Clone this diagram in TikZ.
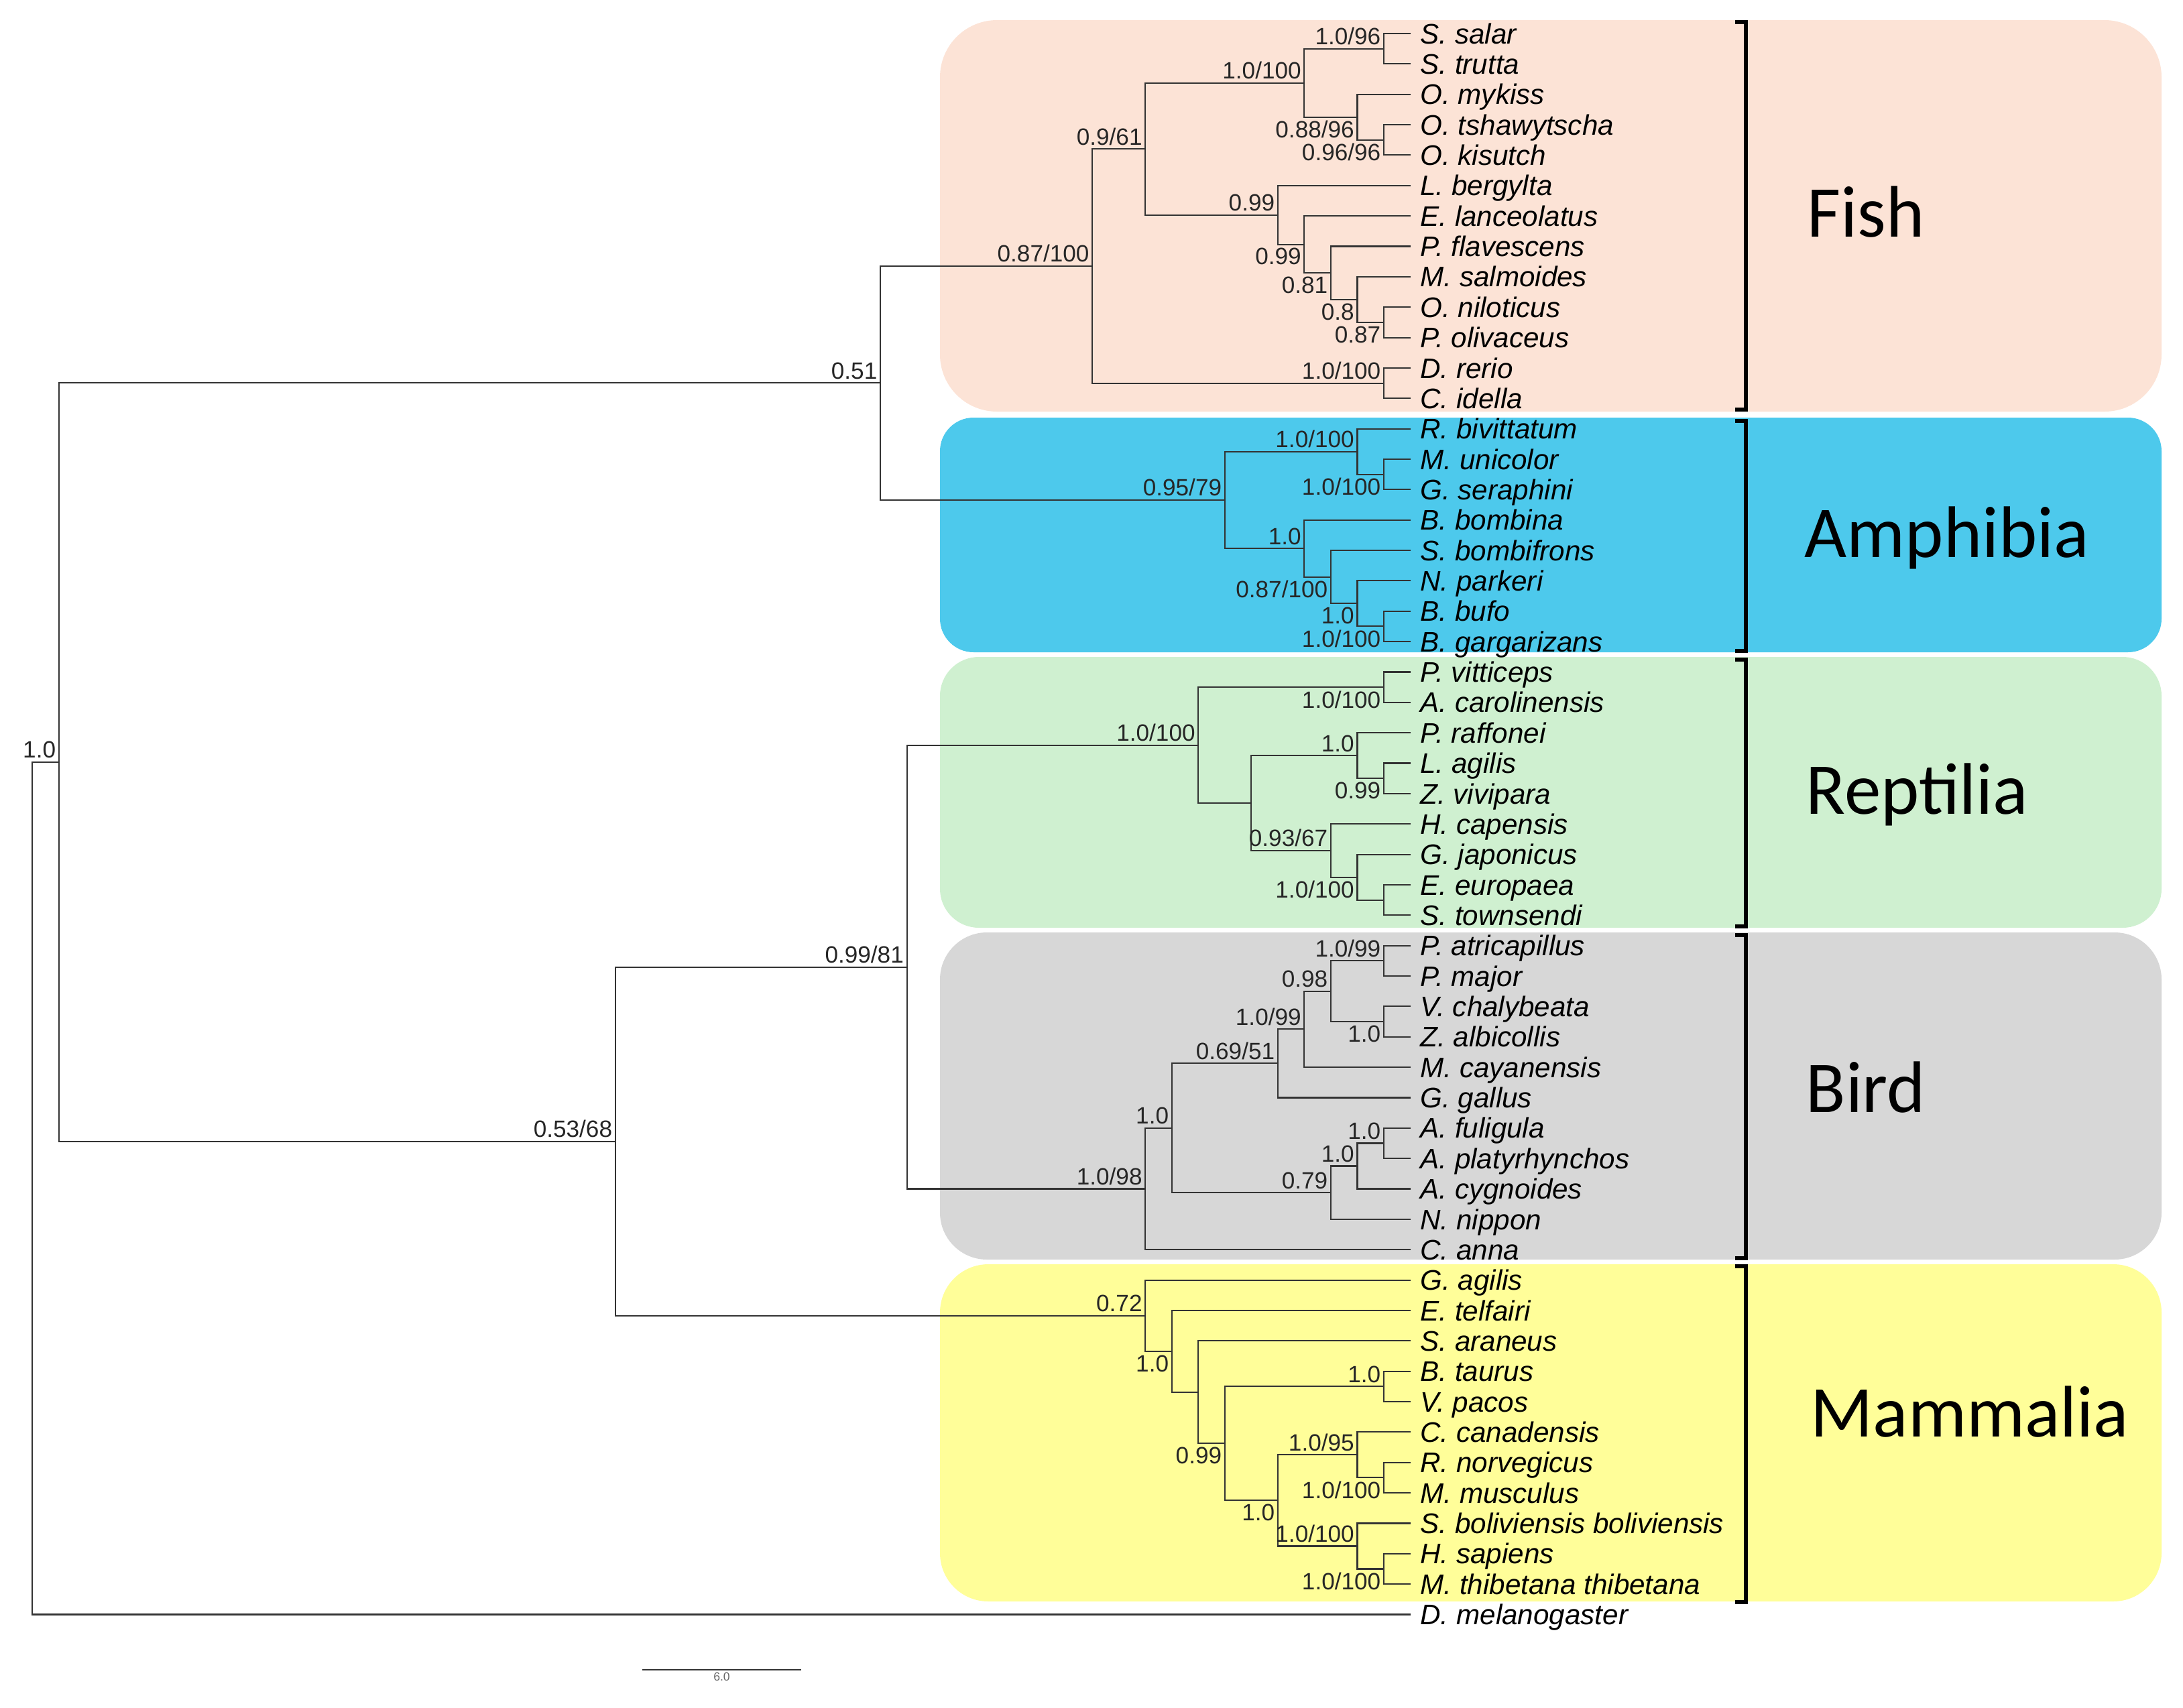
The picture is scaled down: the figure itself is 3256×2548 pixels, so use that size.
\documentclass[tikz,border=0pt]{standalone}
\usepackage{fontspec}
\setmainfont{Liberation Sans}
\newfontfamily\groupfont{Carlito}
\usetikzlibrary{calc}
\definecolor{fishbg}{RGB}{252,227,214}
\definecolor{amphbg}{RGB}{77,201,236}
\definecolor{reptbg}{RGB}{207,240,208}
\definecolor{birdbg}{RGB}{215,215,215}
\definecolor{mammbg}{RGB}{255,254,153}

\begin{document}
\begin{tikzpicture}[x=0.01cm, y=-0.01cm,
    branch/.style={draw=black!80, line width=0.6pt},
    taxon/.style={anchor=west, inner xsep=0.15cm, inner ysep=0pt, outer sep=0pt,
      text height=10pt, text depth=1.4pt, font=\fontsize{12}{14}\selectfont\itshape},
    supa/.style={anchor=south east, inner xsep=0.04cm, inner ysep=0.05cm,
      font=\fontsize{10}{12}\selectfont, text=black!85},
    supb/.style={supa, anchor=north east},
    brace/.style={line width=1.5pt},
    group/.style={anchor=base west, inner sep=0pt, font=\groupfont\fontsize{31}{36}\selectfont}]
  \useasboundingbox (0,0) rectangle (3256,2548);

  % clade boxes
  \foreach \c/\t/\b/\r in {fishbg/30/614/0.85cm, amphbg/623/973/0.5cm,
      reptbg/980/1384/0.58cm, birdbg/1391/1879/0.7cm, mammbg/1886/2389/0.72cm}
    \fill[\c, rounded corners=\r] (1402,\t) rectangle (3224,\b);

  % tree: x = levels back from the tips, y = rows
  \begin{scope}[shift={(2103.5,50)}, x=-0.395cm, y=-0.4533cm]
    \foreach \n/\r/\t in {sSal/0/S. salar, sTru/1/S. trutta, oMyk/2/O. mykiss,
        oTsh/3/O. tshawytscha, oKis/4/O. kisutch, lBer/5/L. bergylta,
        eLan/6/E. lanceolatus, pFla/7/P. flavescens, mSal/8/M. salmoides,
        oNil/9/O. niloticus, pOli/10/P. olivaceus, dRer/11/D. rerio, cIde/12/C. idella,
        rBiv/13/R. bivittatum, mUni/14/M. unicolor, gSer/15/G. seraphini,
        bBom/16/B. bombina, sBom/17/S. bombifrons, nPar/18/N. parkeri,
        bBuf/19/B. bufo, bGar/20/B. gargarizans,
        pVit/21/P. vitticeps, aCar/22/A. carolinensis, pRaf/23/P. raffonei,
        lAgi/24/L. agilis, zViv/25/Z. vivipara, hCap/26/H. capensis,
        gJap/27/G. japonicus, eEur/28/E. europaea, sTow/29/S. townsendi,
        pAtr/30/P. atricapillus, pMaj/31/P. major, vCha/32/V. chalybeata,
        zAlb/33/Z. albicollis, mCay/34/M. cayanensis, gGal/35/G. gallus,
        aFul/36/A. fuligula, aPla/37/A. platyrhynchos, aCyg/38/A. cygnoides,
        nNip/39/N. nippon, cAnn/40/C. anna,
        gAgi/41/G. agilis, eTel/42/E. telfairi, sAra/43/S. araneus,
        bTau/44/B. taurus, vPac/45/V. pacos, cCan/46/C. canadensis,
        rNor/47/R. norvegicus, mMus/48/M. musculus,
        sBol/49/S. boliviensis boliviensis, hSap/50/H. sapiens,
        mThi/51/M. thibetana thibetana, dMel/52/D. melanogaster}
      \node[taxon] (\n) at (0,\r) {\t};

    \foreach \n/\l/\r in {fSal/1/0.5, fOnc2/1/3.5, fOnc/2/2.75, fSalm/4/1.625,
        fNil/1/9.5, fMsa/2/8.75, fPfl/3/7.875, fEla/4/6.9375, fLab/5/5.96875,
        fEut/10/3.796875, fCyp/1/11.5, fish/12/7.6484,
        aMG/1/14.5, aCau/2/13.75, aBuf/1/19.5, aNB/2/18.75, aSNB/3/17.875,
        aAnu/4/16.9375, amph/7/15.34375, fishAmph/20/11.4961,
        rPA/1/21.5, rLZ/1/24.5, rLac/2/23.75, rES/1/28.5, rGES/2/27.75,
        rGek/3/26.875, rLG/6/25.3125, rept/8/23.40625,
        bPar/1/30.5, bVZ/1/32.5, bPVZ/3/31.5, bMc/4/32.75, bNeo/5/33.875,
        bAF/1/36.5, bAns/2/37.25, bAN/3/38.125, bGal/9/36, bird/10/38,
        sauria/19/30.703,
        mBV/1/44.5, mRM/1/47.5, mCRM/2/46.75, mHM/1/50.5, mSHM/2/49.75,
        mEua/5/48.25, mBor/7/46.375, mSA/8/44.6875, mET/9/43.34375,
        mamm/10/42.1719, amniota/30/36.4375, vert/51/23.967, root/52/37.98}
      \coordinate (\n) at (\l,\r);

    \foreach \p/\c in {fSal/sSal, fSal/sTru, fOnc2/oTsh, fOnc2/oKis, fOnc/oMyk,
        fOnc/fOnc2, fSalm/fSal, fSalm/fOnc, fNil/oNil, fNil/pOli, fMsa/mSal,
        fMsa/fNil, fPfl/pFla, fPfl/fMsa, fEla/eLan, fEla/fPfl, fLab/lBer,
        fLab/fEla, fEut/fSalm, fEut/fLab, fCyp/dRer, fCyp/cIde, fish/fEut,
        fish/fCyp,
        aMG/mUni, aMG/gSer, aCau/rBiv, aCau/aMG, aBuf/bBuf, aBuf/bGar,
        aNB/nPar, aNB/aBuf, aSNB/sBom, aSNB/aNB, aAnu/bBom, aAnu/aSNB,
        amph/aCau, amph/aAnu, fishAmph/fish, fishAmph/amph,
        rPA/pVit, rPA/aCar, rLZ/lAgi, rLZ/zViv, rLac/pRaf, rLac/rLZ,
        rES/eEur, rES/sTow, rGES/gJap, rGES/rES, rGek/hCap, rGek/rGES,
        rLG/rLac, rLG/rGek, rept/rPA, rept/rLG,
        bPar/pAtr, bPar/pMaj, bVZ/vCha, bVZ/zAlb, bPVZ/bPar, bPVZ/bVZ,
        bMc/bPVZ, bMc/mCay, bNeo/bMc, bNeo/gGal, bAF/aFul, bAF/aPla,
        bAns/bAF, bAns/aCyg, bAN/bAns, bAN/nNip, bGal/bNeo, bGal/bAN,
        bird/bGal, bird/cAnn, sauria/rept, sauria/bird,
        mBV/bTau, mBV/vPac, mRM/rNor, mRM/mMus, mCRM/cCan, mCRM/mRM,
        mHM/hSap, mHM/mThi, mSHM/sBol, mSHM/mHM, mEua/mCRM, mEua/mSHM,
        mBor/mBV, mBor/mEua, mSA/sAra, mSA/mBor, mET/eTel, mET/mSA,
        mamm/gAgi, mamm/mET, amniota/sauria, amniota/mamm,
        vert/fishAmph, vert/amniota, root/vert, root/dMel}
      \draw[branch] (\p) |- (\c);

    % support values above the branch
    \foreach \n/\t in {fSal/{1.0/96}, fSalm/{1.0/100}, fLab/{0.99}, fEut/{0.9/61},
        fCyp/{1.0/100}, fish/{0.87/100}, aCau/{1.0/100}, aAnu/{1.0},
        amph/{0.95/79}, fishAmph/{0.51}, rLac/{1.0}, rGek/{0.93/67},
        rept/{1.0/100}, bPar/{1.0/99}, bPVZ/{0.98}, bMc/{1.0/99},
        bNeo/{0.69/51}, bAF/{1.0}, bAns/{1.0}, bAN/{0.79}, bGal/{1.0},
        bird/{1.0/98}, sauria/{0.99/81}, mBV/{1.0}, mCRM/{1.0/95},
        mSHM/{1.0/100}, mamm/{0.72}, amniota/{0.53/68}, vert/{1.0}}
      \node[supa] (lb\n) at (\n) {\t};
    % support values below the branch
    \foreach \n/\t in {fOnc2/{0.96/96}, fOnc/{0.88/96}, fNil/{0.87}, fMsa/{0.8},
        fPfl/{0.81}, fEla/{0.99}, aMG/{1.0/100}, aBuf/{1.0/100}, aNB/{1.0},
        aSNB/{0.87/100}, rPA/{1.0/100}, rLZ/{0.99}, rGES/{1.0/100},
        bVZ/{1.0}, mRM/{1.0/100}, mHM/{1.0/100}, mEua/{1.0}, mBor/{0.99},
        mET/{1.0}}
      \node[supb] (lb\n) at (\n) {\t};
  \end{scope}

  % brackets and clade names
  \foreach \t/\b in {33/611, 628/971, 984/1382, 1395/1877, 1889/2390}
    \draw[brace] (2588,\t) -| (2604,\b) -- (2588,\b);
  \foreach \x/\y/\t in {2695/353/Fish, 2691/831/Amphibia, 2693/1214/Reptilia,
      2693/1659/Bird, 2700/2143/Mammalia}
    \node[group] (grp\t) at (\x,\y) {\t};

  % scale bar
  \coordinate (sb1) at (958,2491);
  \coordinate (sb2) at (1195,2491);
  \draw[branch, line width=0.8pt] (sb1) -- (sb2);
  \node[below=1pt, inner sep=0pt, font=\fontsize{5}{6}\selectfont, text=black!60] (sbl)
    at ($(sb1)!0.5!(sb2)$) {6.0};
\end{tikzpicture}
\end{document}
